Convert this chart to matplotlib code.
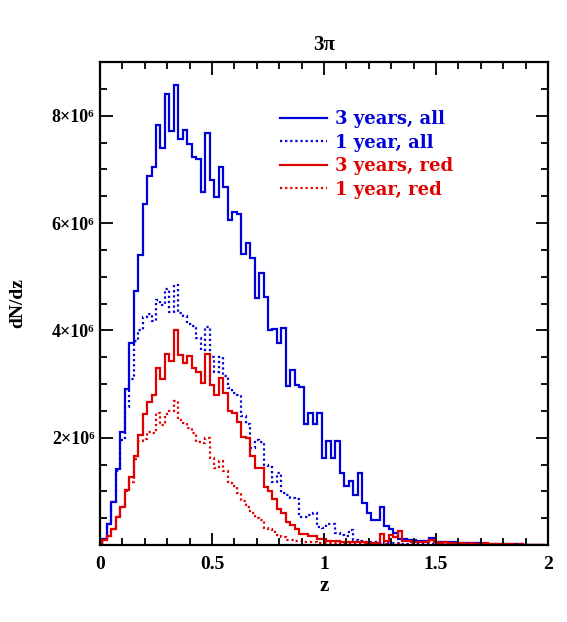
import numpy as np
import matplotlib
matplotlib.use("Agg")
import matplotlib.pyplot as plt
from matplotlib.ticker import MultipleLocator, FixedLocator, FixedFormatter

# bin centres at z = 0, 0.02, ..., 1.98
z_centres = np.round(np.arange(100) * 0.02, 2)

all_3yr = [0.02, 0.11, 0.39, 0.81, 1.41, 2.11, 2.91, 3.76, 4.74, 5.40,
           6.36, 6.87, 7.04, 7.82, 7.39, 8.40, 7.71, 8.57, 7.56, 7.74,
           7.48, 7.23, 7.20, 6.58, 7.67, 6.80, 6.48, 7.04, 6.67, 6.05,
           6.21, 6.16, 5.42, 5.63, 5.35, 4.61, 5.07, 4.63, 4.01, 4.03,
           3.77, 4.04, 2.96, 3.26, 2.98, 2.95, 2.25, 2.46, 2.25, 2.46,
           1.62, 1.93, 1.62, 1.93, 1.35, 1.10, 1.20, 0.93, 1.35, 0.78,
           0.59, 0.47, 0.47, 0.70, 0.36, 0.29, 0.23, 0.12, 0.12, 0.10,
           0.10, 0.08, 0.08, 0.08, 0.13, 0.06, 0.06, 0.05, 0.05, 0.05,
           0.04, 0.04, 0.03, 0.03, 0.03, 0.02, 0.02, 0.02, 0.02, 0.02,
           0.01, 0.01, 0.01, 0.01, 0.01, 0.00, 0.00, 0.00, 0.00, 0.00]

all_1yr = [0.02, 0.11, 0.39, 0.81, 1.38, 1.96, 2.58, 3.09, 3.80, 4.00,
           4.25, 4.30, 4.18, 4.57, 4.48, 4.77, 4.35, 4.85, 4.32, 4.26,
           4.12, 4.08, 3.85, 3.63, 4.07, 3.50, 3.22, 3.50, 3.14, 2.92,
           2.83, 2.80, 2.40, 2.25, 1.80, 1.95, 1.92, 1.50, 1.45, 1.18,
           1.34, 0.96, 0.93, 0.87, 0.85, 0.53, 0.53, 0.55, 0.59, 0.34,
           0.31, 0.40, 0.40, 0.22, 0.19, 0.16, 0.28, 0.10, 0.08, 0.06,
           0.05, 0.06, 0.04, 0.05, 0.04, 0.03, 0.03, 0.03, 0.02, 0.02,
           0.02, 0.02, 0.01, 0.01, 0.02, 0.01, 0.01, 0.01, 0.01, 0.01,
           0.01, 0.00, 0.01, 0.00, 0.00, 0.00, 0.00, 0.00, 0.00, 0.00,
           0.00, 0.00, 0.00, 0.00, 0.00, 0.00, 0.00, 0.00, 0.00, 0.00]

red_3yr = [0.02, 0.09, 0.16, 0.29, 0.53, 0.70, 1.03, 1.27, 1.65, 2.05,
           2.44, 2.67, 2.79, 3.30, 3.09, 3.56, 3.42, 4.00, 3.54, 3.40,
           3.53, 3.30, 3.22, 3.01, 3.55, 2.98, 2.80, 3.11, 2.83, 2.49,
           2.46, 2.30, 2.01, 1.99, 1.65, 1.43, 1.43, 1.09, 1.00, 0.85,
           0.67, 0.60, 0.42, 0.38, 0.29, 0.21, 0.21, 0.16, 0.16, 0.12,
           0.12, 0.08, 0.08, 0.08, 0.06, 0.06, 0.06, 0.05, 0.05, 0.05,
           0.04, 0.04, 0.03, 0.20, 0.07, 0.19, 0.15, 0.27, 0.08, 0.07,
           0.06, 0.05, 0.05, 0.06, 0.09, 0.05, 0.04, 0.05, 0.04, 0.04,
           0.03, 0.03, 0.02, 0.03, 0.02, 0.02, 0.03, 0.01, 0.02, 0.01,
           0.01, 0.01, 0.01, 0.00, 0.01, 0.00, 0.00, 0.00, 0.00, 0.00]

red_1yr = [0.02, 0.09, 0.16, 0.29, 0.53, 0.70, 1.00, 1.18, 1.60, 1.93,
           1.97, 2.11, 2.09, 2.46, 2.24, 2.45, 2.49, 2.69, 2.32, 2.28,
           2.18, 2.08, 1.91, 1.90, 2.00, 1.63, 1.44, 1.56, 1.37, 1.16,
           1.10, 0.97, 0.82, 0.71, 0.59, 0.50, 0.47, 0.31, 0.29, 0.25,
           0.19, 0.15, 0.10, 0.09, 0.08, 0.07, 0.06, 0.05, 0.05, 0.04,
           0.04, 0.03, 0.03, 0.03, 0.02, 0.02, 0.02, 0.02, 0.01, 0.01,
           0.01, 0.01, 0.01, 0.01, 0.01, 0.01, 0.00, 0.01, 0.00, 0.00,
           0.00, 0.00, 0.00, 0.00, 0.00, 0.00, 0.00, 0.00, 0.00, 0.00,
           0.00, 0.00, 0.00, 0.00, 0.00, 0.00, 0.00, 0.00, 0.00, 0.00,
           0.00, 0.00, 0.00, 0.00, 0.00, 0.00, 0.00, 0.00, 0.00, 0.00]

labels = ["3 years, all", "1 year, all", "3 years, red", "1 year, red"]
ytick_vals = [2e6, 4e6, 6e6, 8e6]
ytick_labels = ["2×10⁶", "4×10⁶", "6×10⁶", "8×10⁶"]
xtick_vals = [0, 0.5, 1, 1.5, 2]
xtick_labels = ["0", "0.5", "1", "1.5", "2"]

BLUE = "#0000d8"
RED = "#e00000"

plt.rcParams['font.family'] = ['Liberation Serif', 'DejaVu Serif']
plt.rcParams['font.weight'] = 'bold'

fig = plt.figure(figsize=(5.67, 6.22), dpi=100)
ax = fig.add_axes([100/567, 1-545/622, 448/567, 483/622])

width = 0.02
edges = np.concatenate([z_centres - width/2, [z_centres[-1] + width/2]])

series = [(all_3yr, BLUE, '-'), (all_1yr, BLUE, (0, (1, 1.3))),
          (red_3yr, RED, '-'), (red_1yr, RED, (0, (1, 1.3)))]
handles = []
for vals, col, ls in series:
    ax.stairs(np.array(vals) * 1e6, edges, color=col, linestyle=ls,
              linewidth=1.6, baseline=0)
    handles.append(plt.Line2D([], [], color=col, linestyle=ls, linewidth=1.6))

ax.set_xlim(0, 2)
ax.set_ylim(0, 9e6)
ax.xaxis.set_major_locator(FixedLocator(xtick_vals))
ax.xaxis.set_major_formatter(FixedFormatter(xtick_labels))
ax.xaxis.set_minor_locator(MultipleLocator(0.1))
ax.yaxis.set_major_locator(FixedLocator(ytick_vals))
ax.yaxis.set_major_formatter(FixedFormatter(ytick_labels))
ax.yaxis.set_minor_locator(MultipleLocator(0.5e6))
ax.tick_params(which='both', direction='in', top=True, right=True,
               width=1.3, colors='black')
ax.tick_params(axis='x', labelsize=14, pad=8)
ax.tick_params(axis='y', labelsize=13, pad=4)
ax.tick_params(which='major', length=9)
ax.tick_params(which='minor', length=5)
for sp in ax.spines.values():
    sp.set_linewidth(1.6)

ax.set_xlabel("z", fontsize=15, fontweight='bold', labelpad=2)
ax.set_ylabel("dN/dz", fontsize=14, fontweight='bold')
ax.yaxis.set_label_coords(-0.165, 0.5)
ax.set_title("3π", fontsize=15, fontweight='bold', pad=9)

leg = ax.legend(handles, labels, loc='upper left', bbox_to_anchor=(0.385, 0.915),
                frameon=False, handlelength=2.6, handletextpad=0.45,
                labelspacing=0.3, borderaxespad=0,
                prop={'family': 'DejaVu Serif', 'weight': 'bold', 'size': 13})
for t, col in zip(leg.get_texts(), [BLUE, BLUE, RED, RED]):
    t.set_color(col)

fig.savefig("out.png", dpi=100)
